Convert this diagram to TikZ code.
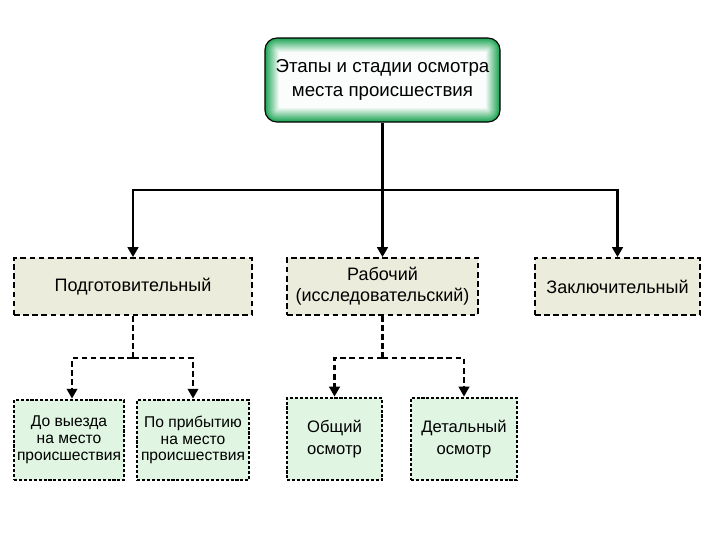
\documentclass[tikz,border=0pt]{standalone}
\usepackage{fontspec}
\setmainfont{Liberation Sans}
\usetikzlibrary{arrows.meta}

\definecolor{stagefill}{RGB}{236,236,220}
\definecolor{stepfill}{RGB}{224,245,226}
\definecolor{glowgreen}{RGB}{30,165,85}

\tikzset{
  stagebox/.style={draw, line width=1.3pt, dash pattern=on 4pt off 2.5pt,
    fill=stagefill, align=center, inner sep=0pt,
    font=\fontsize{12.8}{15}\selectfont},
  stepbox/.style={draw, line width=2pt, dash pattern=on 2.2pt off 1.3pt,
    fill=stepfill, align=center, inner sep=0pt,
    font=\fontsize{11.1}{12}\selectfont},
  mainline/.style={line width=1.7pt, -{Triangle[length=7pt,width=7.5pt]}},
  subline/.style={line width=1.5pt, dash pattern=on 4pt off 2.5pt,
    -{Triangle[length=7pt,width=7.5pt]}},
}

\begin{document}
\begin{tikzpicture}[x=0.025cm,y=-0.025cm]
  \useasboundingbox (0,0) rectangle (720,540);
  % green glow of the title box
  \foreach \i in {0,...,14} {
    \pgfmathsetmacro\shade{100-\i*7}
    \fill[glowgreen!\shade!white, rounded corners={max(1,12-\i)*0.7pt}]
      (265+\i,38+\i) rectangle (500-\i,122-\i);
  }
  \node[draw, line width=0.8pt, rounded corners=8.5pt, minimum width=5.875cm,
    minimum height=2.1cm, align=center, font=\fontsize{13.3}{17}\selectfont]
    (title) at (382.5,80) {Этапы и стадии осмотра\\места происшествия};

  % stages
  \node[stagebox, minimum width=5.95cm, minimum height=1.425cm]
    (prep) at (133,286.5) {Подготовительный};
  \node[stagebox, minimum width=4.775cm, minimum height=1.425cm]
    (work) at (382.5,286.5) {Рабочий\\(исследовательский)};
  \node[stagebox, minimum width=4.125cm, minimum height=1.425cm]
    (final) at (617.5,286.5) {Заключительный};

  % sub-stages
  \node[stepbox, minimum width=2.75cm, minimum height=2cm]
    (before) at (69,440) {До выезда\\на место\\происшествия};
  \node[stepbox, minimum width=2.8cm, minimum height=2cm]
    (arrival) at (193,440) {По прибытию\\на место\\происшествия};
  \node[stepbox, minimum width=2.375cm, minimum height=2.05cm,
    font=\fontsize{11.8}{15.5}\selectfont]
    (general) at (334.5,439) {Общий\\осмотр};
  \node[stepbox, minimum width=2.65cm, minimum height=2.05cm,
    font=\fontsize{11.8}{15.5}\selectfont]
    (detail) at (464,439) {Детальный\\осмотр};

  % connectors
  \coordinate (fork) at (382.5,190);
  \draw[mainline] (title.south) -- (work.north);
  \draw[mainline] (fork) -| (prep.north);
  \draw[mainline] (fork) -| (final.north);

  \coordinate (prepfork) at (133,358);
  \coordinate (workfork) at (382.5,358);
  \draw[line width=1.5pt, dash pattern=on 4pt off 2.5pt] (prep.south) -- (prepfork);
  \draw[subline] (prepfork) -| ([xshift=0.075cm]before.north);
  \draw[subline] (prepfork) -| (arrival.north);
  \draw[line width=1.5pt, dash pattern=on 4pt off 2.5pt] (work.south) -- (workfork);
  \draw[subline] (workfork) -| (general.north);
  \draw[subline] (workfork) -| (detail.north);
\end{tikzpicture}
\end{document}
